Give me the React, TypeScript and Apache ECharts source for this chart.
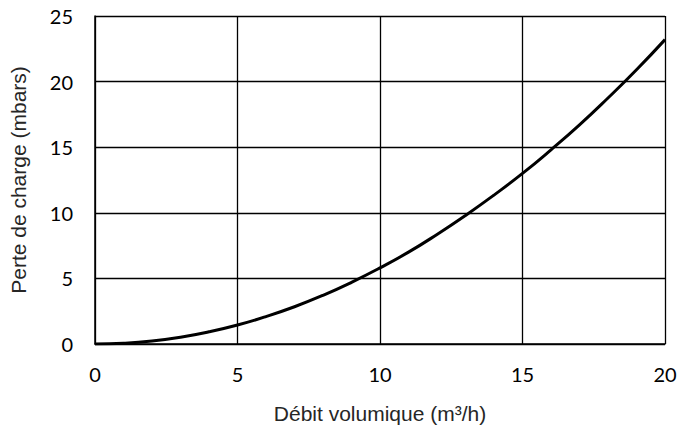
import React, { useEffect, useRef } from "react";
import * as echarts from "echarts";

const flowRates = [0, 1, 2, 3, 4, 5, 6, 7, 8, 9, 10, 11, 12, 13, 14, 15, 16, 17, 18, 19, 20];
const pressureLoss = [0, 0.06, 0.23, 0.52, 0.93, 1.45, 2.09, 2.84, 3.71, 4.7, 5.8, 7.0, 8.35, 9.8, 11.35, 13.0, 14.8, 16.7, 18.75, 20.9, 23.2];
const xTicks = [0, 5, 10, 15, 20];
const yTicks = [0, 5, 10, 15, 20, 25];
const xTitle = "Débit volumique (m³/h)";
const yTitle = "Perte de charge (mbars)";

export default function App() {
  const ref = useRef<HTMLDivElement>(null);
  useEffect(() => {
    if (!ref.current) return;
    const chart = echarts.init(ref.current, undefined, { renderer: "svg" });
    const tickFont = { fontFamily: "Lato", fontSize: 20, color: "#000" };
    const titleFont = { fontFamily: "Liberation Sans", fontSize: 21, color: "#262626" };
    chart.setOption({
      animation: false,
      backgroundColor: "#fff",
      grid: { left: 95, right: 29, top: 16, bottom: 84, containLabel: false },
      xAxis: {
        type: "value",
        min: xTicks[0],
        max: xTicks[xTicks.length - 1],
        interval: 5,
        name: xTitle,
        nameLocation: "middle",
        nameGap: 59,
        nameTextStyle: titleFont,
        axisLine: { show: true, lineStyle: { color: "#000", width: 1.5 } },
        axisTick: { show: false },
        axisLabel: { ...tickFont, margin: 20 },
        splitLine: { show: true, lineStyle: { color: "#000", width: 1.3 } },
      },
      yAxis: {
        type: "value",
        min: yTicks[0],
        max: yTicks[yTicks.length - 1],
        interval: 5,
        name: yTitle,
        nameLocation: "middle",
        nameGap: 66,
        nameTextStyle: titleFont,
        axisLine: { show: true, lineStyle: { color: "#000", width: 1.5 } },
        axisTick: { show: false },
        axisLabel: { ...tickFont, margin: 22 },
        splitLine: { show: true, lineStyle: { color: "#000", width: 1.3 } },
      },
      series: [
        {
          type: "line",
          data: flowRates.map((x, i) => [x, pressureLoss[i]]),
          smooth: true,
          symbol: "none",
          lineStyle: { color: "#000", width: 3 },
        },
      ],
    });
    return () => chart.dispose();
  }, []);
  return <div ref={ref} style={{ width: 694, height: 429, position: "absolute", left: 0, top: 0 }} />;
}
